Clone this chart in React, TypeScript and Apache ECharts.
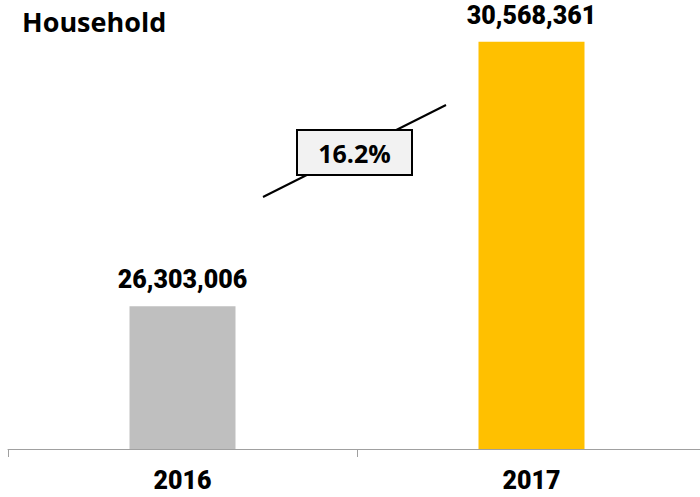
import React, { useEffect, useRef } from "react";
import * as echarts from "echarts";

const categories = ["2016", "2017"];
const values = [26303006, 30568361];
const barColors = ["#bfbfbf", "#ffc000"];
const titleText = "Household";

const growth = ((values[1] / values[0] - 1) * 100).toFixed(1) + "%";

const numFont = "Roboto, 'Liberation Sans Narrow', sans-serif";

export default function App() {
  const ref = useRef<HTMLDivElement>(null);
  useEffect(() => {
    const chart = echarts.init(ref.current!, null, { renderer: "svg" });
    chart.setOption({
      animation: false,
      backgroundColor: "#ffffff",
      title: {
        text: titleText,
        left: 17,
        top: 3,
        textStyle: { fontFamily: "'Open Sans', 'Noto Sans', sans-serif", fontWeight: "bold", fontSize: 27, color: "#000" },
      },
      grid: { left: 8, width: 698, top: 15, height: 434, outerBoundsMode: "none", containLabel: false },
      xAxis: {
        type: "category",
        data: categories,
        axisLine: { show: true, lineStyle: { color: "#a0a0a0", width: 1 } },
        axisTick: { show: true, length: 8, lineStyle: { color: "#a0a0a0" } },
        axisLabel: {
          margin: 19,
          fontFamily: numFont,
          fontWeight: 900,
          fontSize: 25,
          color: "#000",
        },
      },
      yAxis: {
        type: "value",
        min: 24000000,
        max: 31000000,
        show: false,
        splitLine: { show: false },
      },
      series: [
        {
          type: "bar",
          barWidth: 106,
          data: values.map((v, i) => ({ value: v, itemStyle: { color: barColors[i] } })),
          label: {
            show: true,
            position: "top",
            distance: 14,
            formatter: (p: any) => p.value.toLocaleString("en-US"),
            fontFamily: numFont,
            fontWeight: 900,
            fontSize: 25,
            color: "#000",
          },
        },
      ],
      graphic: [
        {
          type: "line",
          shape: { x1: 263, y1: 197, x2: 446, y2: 105 },
          style: { stroke: "#000", lineWidth: 2 },
        },
        {
          type: "rect",
          shape: { x: 297, y: 130, width: 115, height: 45 },
          style: { fill: "#f2f2f2", stroke: "#000", lineWidth: 2 },
        },
        {
          type: "text",
          x: 354.5,
          y: 153,
          style: {
            text: growth,
            fontFamily: "'Open Sans', 'Noto Sans', sans-serif",
            fontWeight: "bold",
            fontSize: 25,
            fill: "#000",
            align: "center",
            verticalAlign: "middle",
          },
        },
      ],
    });
    return () => chart.dispose();
  }, []);
  return <div ref={ref} style={{ width: 700, height: 497, position: "absolute", left: 0, top: 0 }} />;
}
